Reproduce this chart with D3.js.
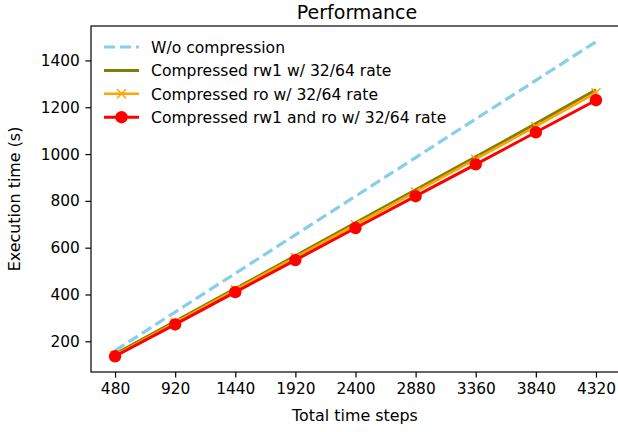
<html>
<head>
<script src="https://d3js.org/d3.v7.min.js"></script>
<style>
  body { margin: 0; background: #fff; }
  text { font-family: "DejaVu Sans", sans-serif; fill: #000; }
  .axis line { stroke: #000; stroke-width: 1.2; }
  .axis path { display: none; }
  .axis text { font-size: 15.4px; fill: #000; }
</style>
</head>
<body>
<div id="chart"></div>
<script>
// categories on x axis
const steps = ['480', '920', '1440', '1920', '2400', '2880', '3360', '3840', '4320'];

// execution time per series (s)
const noCompression = [160, 325, 490, 655, 820, 985, 1150, 1315, 1480];
const rw1Rate = [145, 285, 425, 565, 706, 847, 988, 1130, 1275];
const roRate = [140, 280, 420, 558, 698, 838, 978, 1118, 1262];
const rw1RoRate = [136, 272, 410, 547, 684, 820, 956, 1093, 1230];

const seriesNames = [
  'W/o compression',
  'Compressed rw1 w/ 32/64 rate',
  'Compressed ro w/ 32/64 rate',
  'Compressed rw1 and ro w/ 32/64 rate'
];
const yTicks = [200, 400, 600, 800, 1000, 1200, 1400];

const series = [
  { name: seriesNames[0], values: noCompression, color: '#87CEEB', dash: '11,5', width: 3.2, marker: null },
  { name: seriesNames[1], values: rw1Rate, color: '#808000', dash: null, width: 3, marker: null },
  { name: seriesNames[2], values: roRate, color: '#FFA500', dash: null, width: 2.6, marker: 'x' },
  { name: seriesNames[3], values: rw1RoRate, color: '#FF0000', dash: null, width: 3, marker: 'o' }
];

const W = 618, H = 432;
const margin = { top: 26, right: -2, bottom: 60, left: 91 };
const width = W - margin.left - margin.right;
const height = H - margin.top - margin.bottom;

const svg = d3.select('#chart').append('svg')
  .attr('width', W).attr('height', H);
const g = svg.append('g')
  .attr('transform', `translate(${margin.left},${margin.top})`);

// point scale with matplotlib-like 5% padding
const x = d3.scalePoint()
  .domain(steps)
  .range([0, width])
  .padding(0.4);

const allVals = series.flatMap(s => s.values);
const lo = d3.min(allVals), hi = d3.max(allVals);
const pad = (hi - lo) * 0.05;
const y = d3.scaleLinear()
  .domain([lo - pad, hi + pad])
  .range([height, 0]);

// axes
g.append('g')
  .attr('class', 'axis')
  .attr('transform', `translate(0,${height})`)
  .call(d3.axisBottom(x).tickSizeOuter(0).tickSize(5.6).tickPadding(5.6));

g.append('g')
  .attr('class', 'axis')
  .call(d3.axisLeft(y).tickValues(yTicks).tickFormat(d3.format('d'))
    .tickSizeOuter(0).tickSize(5.6).tickPadding(5.6));

// spines
g.append('rect')
  .attr('x', 0).attr('y', 0).attr('width', width).attr('height', height)
  .attr('fill', 'none').attr('stroke', '#000').attr('stroke-width', 1.2);

const line = d3.line()
  .x((d, i) => x(steps[i]))
  .y(d => y(d));

function drawMarker(sel, s, cx, cy) {
  if (s.marker === 'o') {
    sel.append('circle').attr('cx', cx).attr('cy', cy).attr('r', 6.2)
      .attr('fill', s.color);
  } else if (s.marker === 'x') {
    const r = 4.5;
    sel.append('path')
      .attr('d', `M${cx - r},${cy - r}L${cx + r},${cy + r}M${cx - r},${cy + r}L${cx + r},${cy - r}`)
      .attr('stroke', s.color).attr('stroke-width', 1.6).attr('fill', 'none');
  }
}

series.forEach(s => {
  g.append('path')
    .datum(s.values)
    .attr('d', line)
    .attr('fill', 'none')
    .attr('stroke', s.color)
    .attr('stroke-width', s.width)
    .attr('stroke-dasharray', s.dash);
  if (s.marker) {
    const mg = g.append('g');
    s.values.forEach((v, i) => drawMarker(mg, s, x(steps[i]), y(v)));
  }
});

// legend
const legend = g.append('g').attr('transform', 'translate(13,21)');
series.forEach((s, i) => {
  const row = legend.append('g').attr('transform', `translate(0,${i * 23.4})`);
  row.append('line')
    .attr('x1', 0).attr('x2', 35).attr('y1', 0).attr('y2', 0)
    .attr('stroke', s.color).attr('stroke-width', s.width)
    .attr('stroke-dasharray', s.dash);
  drawMarker(row, s, 17.5, 0);
  row.append('text')
    .attr('x', 47).attr('y', 6)
    .style('font-size', '15.6px')
    .text(s.name);
});

// title and axis labels
svg.append('text')
  .attr('x', 357).attr('y', 19)
  .attr('text-anchor', 'middle')
  .style('font-size', '19px')
  .text('Performance');

svg.append('text')
  .attr('x', 355).attr('y', 421)
  .attr('text-anchor', 'middle')
  .style('font-size', '15.9px')
  .text('Total time steps');

svg.append('text')
  .attr('transform', `translate(20,${margin.top + height / 2}) rotate(-90)`)
  .attr('text-anchor', 'middle')
  .style('font-size', '15.9px')
  .text('Execution time (s)');
</script>
</body>
</html>
